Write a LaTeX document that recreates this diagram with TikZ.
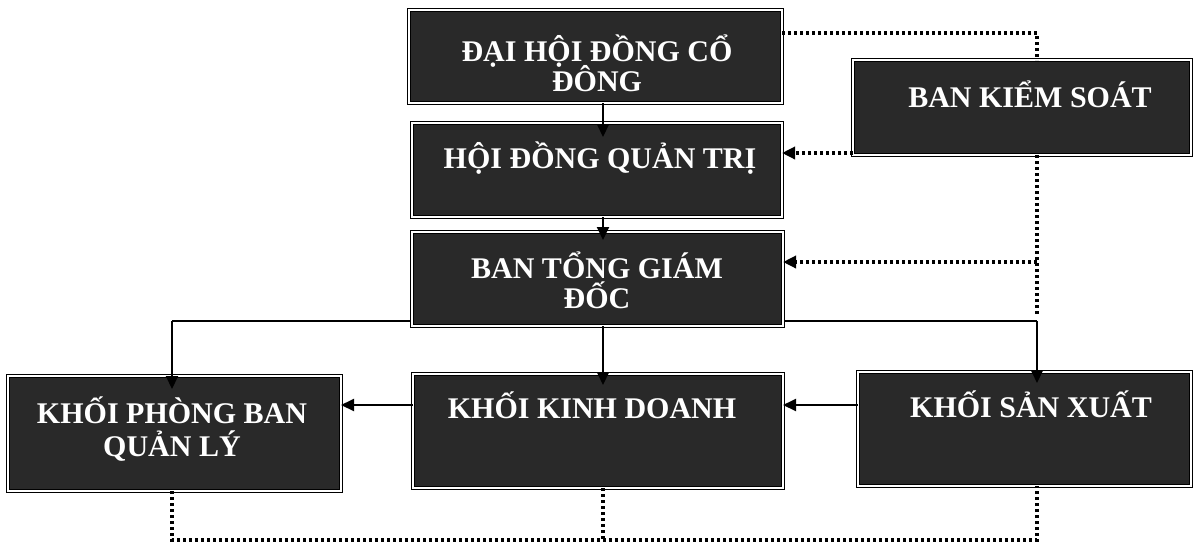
\documentclass[tikz,border=0pt]{standalone}
\usepackage{fontspec}
\setmainfont{Liberation Serif}
\usetikzlibrary{arrows.meta,backgrounds}
\begin{document}
\begin{tikzpicture}[x=1pt,y=-1pt,
  box/.style={draw=black, line width=1.1pt, double=white, double distance=1.4pt,
    fill=black!84, inner sep=0pt, outer sep=0pt},
  lbl/.style={text=white, font=\bfseries\fontsize{30}{30}\selectfont, inner sep=0pt, anchor=base},
  conn/.style={line width=2pt, draw=black},
  tip/.style={-{Triangle[length=13pt,width=12pt]}},
  dotl/.style={line width=3.4pt, draw=black, dash pattern=on 3pt off 3pt}]
\useasboundingbox (0,0) rectangle (1193,544);
% boxes
\node[box, minimum width=373pt, minimum height=93pt] (dh) at (595.5,56.5) {};
\node[box, minimum width=370pt, minimum height=94pt] (hd) at (597,170) {};
\node[box, minimum width=371pt, minimum height=94pt] (bt) at (597.5,279) {};
\node[box, minimum width=338pt, minimum height=95pt] (bks) at (1022,107.5) {};
\node[box, minimum width=333pt, minimum height=115pt] (kp) at (174.5,433.5) {};
\node[box, minimum width=370pt, minimum height=114pt] (kk) at (598,431) {};
\node[box, minimum width=333pt, minimum height=114pt] (ks) at (1024.5,429) {};
% labels
\node[lbl] (t1a) at (597,61) {ĐẠI HỘI ĐỒNG CỔ};
\node[lbl] (t1b) at (597,91) {ĐÔNG};
\node[lbl] (t2) at (600,168) {HỘI ĐỒNG QUẢN TRỊ};
\node[lbl] (t3a) at (597,278) {BAN TỔNG GIÁM};
\node[lbl] (t3b) at (597,308) {ĐỐC};
\node[lbl] (t4) at (1030,107) {BAN KIỂM SOÁT};
\node[lbl] (t5a) at (172,423) {KHỐI PHÒNG BAN};
\node[lbl] (t5b) at (172,456) {QUẢN LÝ};
\node[lbl] (t6) at (592,418) {KHỐI KINH DOANH};
\node[lbl] (t7) at (1031,417) {KHỐI SẢN XUẤT};
% helper coordinates
\coordinate (vx) at (603,0);
\coordinate (c1) at (1037,33);
\coordinate (y2) at (0,153);
\coordinate (c3) at (1037,262);
\coordinate (c4) at (1037,316);
\coordinate (h1) at (172,321);
\coordinate (h2) at (1037,321);
\coordinate (y5) at (0,405);
\coordinate (b1) at (172,540);
\coordinate (b3) at (1037,540);
% white page and the line behind the boxes
\begin{pgfonlayer}{background}
\fill[white] (0,0) rectangle (1193,544);
\draw[conn] (h1) -- (h2);
\end{pgfonlayer}
% solid connectors
\draw[conn,tip] (vx |- dh.south) -- ([yshift=-14pt]vx |- hd.north);
\draw[conn,tip] (vx |- hd.south) -- ([yshift=-8pt]vx |- bt.north);
\draw[conn,tip] (vx |- bt.south) -- ([yshift=-11pt]vx |- kk.north);
\draw[conn,tip] (h1) -- ([yshift=-13pt]h1 |- kp.north);
\draw[conn,tip] (h2) -- ([yshift=-11pt]h2 |- ks.north);
\draw[conn,tip] (ks.west |- y5) -- (kk.east |- y5);
\draw[conn,tip] (kk.west |- y5) -- (kp.east |- y5);
% dotted connectors
\draw[dotl] (dh.east |- c1) -- (c1) -- (c1 |- bks.north);
\draw[dotl,tip] (bks.west |- y2) -- (hd.east |- y2);
\draw[dotl] (c1 |- bks.south) -- (c4);
\draw[dotl,tip] (c3) -- (bt.east |- c3);
\draw[dotl] (b1 |- kp.south) -- (b1) -- (b3) -- (b3 |- ks.south);
\draw[dotl] (vx |- kk.south) -- (vx |- b1);
\end{tikzpicture}
\end{document}
